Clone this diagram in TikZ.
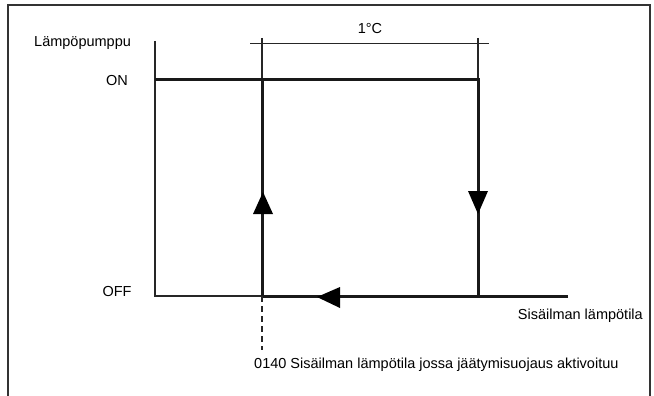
\documentclass[tikz,border=0pt]{standalone}
\usepackage{fontspec}
\setmainfont{Liberation Sans}
\begin{document}
\begin{tikzpicture}[x=1pt,y=-1pt,
  thin line/.style={line width=1.2pt,draw=black!85},
  thick line/.style={line width=3pt,draw=black!90},
  lbl/.style={font=\fontsize{14.5}{16}\selectfont,inner sep=0pt},
  tri/.style={fill=black,draw=none}]
\useasboundingbox (0,0) rectangle (654,396);
% frame
\draw[line width=1.2pt,black!80] (8,396) -- (8,5) -- (650,5) -- (650,396);
% coordinates
\coordinate (ytop) at (155,41);
\coordinate (org) at (155,296);
\coordinate (onL) at (155,80);
\coordinate (aON) at (262,80);
\coordinate (bON) at (478,80);
\coordinate (aOFF) at (262,296);
\coordinate (bOFF) at (478,296);
\coordinate (xend) at (568,296);
\coordinate (dashend) at (262,350);
\coordinate (dimL) at (250,43.5);
\coordinate (dimR) at (489,43.5);
\coordinate (tickA) at (262,38);
\coordinate (tickB) at (478,38);
% axes
\draw[thin line] (ytop) -- (org) -- (aOFF);
% dimension
\draw[thin line] (dimL) -- (dimR);
\draw[thin line] (tickA) -- (aON);
\draw[thin line] (tickB) -- (bON);
% hysteresis loop
\draw[thick line] (onL) -- (bON) -- (bOFF);
\draw[thick line] (xend) -- (aOFF) -- (aON);
\draw[thin line,dash pattern=on 6pt off 4pt] (aOFF) -- (dashend);
% arrowheads
\fill[tri] (263,192) -- (253,214) -- (273,214) -- cycle;
\fill[tri] (478,214) -- (468,191) -- (488,191) -- cycle;
\fill[tri] (317,297) -- (340,287) -- (340,308) -- cycle;
% labels
\node[lbl,anchor=west] (ylab) at (34,43) {Lämpöpumppu};
\node[lbl] (on) at (117,81) {ON};
\node[lbl] (off) at (117,292) {OFF};
\node[lbl] (deg) at (370,29) {1°C};
\node[lbl,anchor=east] (xlab) at (643,316) {Sisäilman lämpötila};
\node[lbl,anchor=west] (note) at (254,365) {0140 Sisäilman lämpötila jossa jäätymisuojaus aktivoituu};
\end{tikzpicture}
\end{document}
